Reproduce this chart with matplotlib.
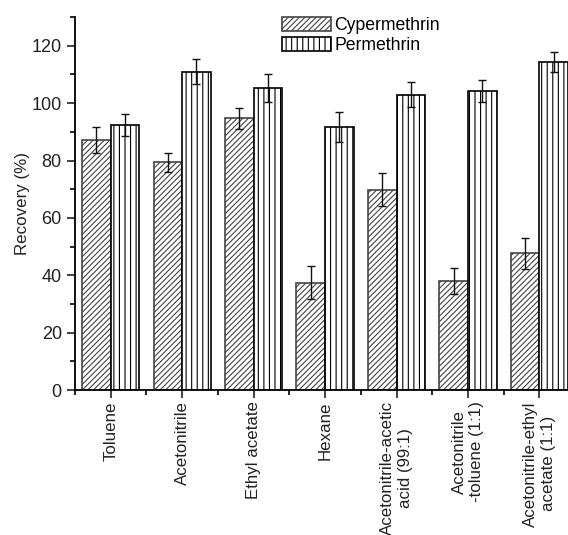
import numpy as np
import matplotlib
matplotlib.use("Agg")
import matplotlib.pyplot as plt
from matplotlib.ticker import MultipleLocator

plt.rcParams['font.family'] = ['Liberation Sans', 'DejaVu Sans']
plt.rcParams['hatch.linewidth'] = 0.8

solvents = ['Toluene', 'Acetonitrile', 'Ethyl acetate', 'Hexane',
            'Acetonitrile-acetic\nacid (99:1)', 'Acetonitrile\n-toluene (1:1)',
            'Acetonitrile-ethyl\nacetate (1:1)']
cyper = [87.2, 79.4, 94.7, 37.4, 69.8, 37.9, 47.7]
cyper_err = [4.5, 3.3, 3.7, 5.8, 5.8, 4.6, 5.4]
perm = [92.4, 111.0, 105.3, 91.7, 103.0, 104.2, 114.3]
perm_err = [3.7, 4.3, 4.9, 5.3, 4.3, 3.8, 3.5]

x = np.arange(len(solvents))
w = 0.4

fig = plt.figure(figsize=(5.68, 5.35), dpi=100)
ax = fig.add_axes([0.132, 0.271, 0.868, 0.697])

err_style = dict(ecolor='#111111', elinewidth=1, capsize=3, capthick=1)
ax.bar(x - w / 2, cyper, w, color='white', edgecolor='#444444', hatch='//////',
       linewidth=1.2, label='Cypermethrin', yerr=cyper_err, error_kw=err_style)
ax.bar(x + w / 2, perm, w, color='white', edgecolor='black', hatch='|||',
       linewidth=1.2, label='Permethrin', yerr=perm_err, error_kw=err_style)

ax.set_xlim(-0.5, 6.4)
ax.set_ylim(0, 130)
ax.set_xticks(x)
ax.set_xticklabels(solvents, rotation=90, ha='center', va='top', fontsize=12.2,
                   multialignment='center')
ax.xaxis.set_minor_locator(MultipleLocator(1, offset=0.5))
ax.yaxis.set_major_locator(MultipleLocator(20))
ax.yaxis.set_minor_locator(MultipleLocator(10))
ax.tick_params(axis='both', which='major', direction='out', length=6, width=1.2,
               labelsize=13, colors='#222222')
ax.tick_params(axis='x', which='major', pad=2, labelsize=12.2)
ax.tick_params(axis='both', which='minor', direction='out', length=3.5, width=1.2)
ax.set_ylabel('Recovery (%)', fontsize=12.2, color='#222222', labelpad=1)

for s in ['top', 'right']:
    ax.spines[s].set_visible(False)
for s in ['left', 'bottom']:
    ax.spines[s].set_linewidth(1.3)

ax.legend(loc='upper left', bbox_to_anchor=(0.405, 1.02), frameon=False, fontsize=12.7,
          handlelength=2.8, handleheight=0.9, handletextpad=0.2, labelspacing=0.15,
          borderaxespad=0)

fig.savefig('out.png', dpi=100)
